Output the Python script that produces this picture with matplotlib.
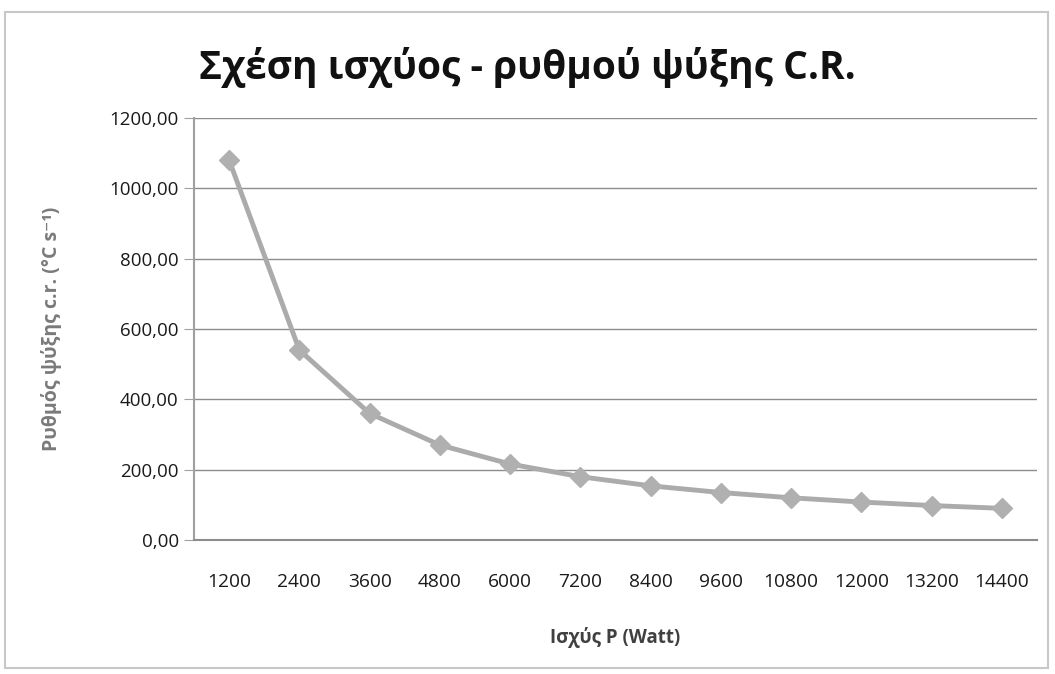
import matplotlib
matplotlib.use("Agg")
import matplotlib.pyplot as plt
from matplotlib.ticker import FuncFormatter
from matplotlib.patches import Rectangle

plt.rcParams['font.family'] = ['Open Sans', 'DejaVu Sans']

categories = ["1200", "2400", "3600", "4800", "6000", "7200", "8400",
              "9600", "10800", "12000", "13200", "14400"]
values = [1080, 540, 360, 270, 216, 180, 154, 135, 120, 108, 98, 90]
yticks = [0, 200, 400, 600, 800, 1000, 1200]

title = "Σχέση ισχύος - ρυθμού ψύξης C.R."
xlabel = "Ισχύς P (Watt)"
ylabel = "Ρυθμός ψύξης c.r. (°C s⁻¹)"

fig = plt.figure(figsize=(10.55, 6.74), dpi=100)
ax = fig.add_axes([0.1839, 0.1988, 0.983 - 0.1839, 0.8249 - 0.1988])

x = list(range(len(categories)))
ax.plot(x, values, color='#ababab', linewidth=3.5, marker='D', markersize=10,
        markerfacecolor='#b0b0b0', markeredgecolor='#b0b0b0', zorder=3)

ax.set_xlim(-0.5, len(categories) - 0.5)
ax.set_ylim(0, 1200)
ax.set_yticks(yticks)
ax.yaxis.set_major_formatter(FuncFormatter(lambda v, p: f"{v:.2f}".replace('.', ',')))
ax.set_xticks(x)
ax.set_xticklabels(categories)

ax.grid(axis='y', color='#8c8c8c', linewidth=1)
ax.set_axisbelow(True)
for s in ['top', 'right']:
    ax.spines[s].set_visible(False)
ax.spines['left'].set_color('#a0a0a0')
ax.spines['left'].set_linewidth(1.5)
ax.spines['bottom'].set_color('#8c8c8c')
ax.spines['bottom'].set_linewidth(1.5)

ax.tick_params(axis='y', length=7, color='#a0a0a0', labelsize=13.5, labelcolor='#1a1a1a', pad=4)
ax.tick_params(axis='x', length=0, labelsize=13.8, labelcolor='#1a1a1a', pad=24)

ax.set_xlabel(xlabel, fontsize=13.5, fontweight='bold', color='#404040', labelpad=26)
ax.set_ylabel(ylabel, fontsize=14, fontweight='bold', color='#7a7a7a', labelpad=34)

fig.text(0.5, 0.9, title, ha='center', va='center', fontsize=28, fontweight='bold', color='#111111')

fig.patches.append(Rectangle((5 / 1055, 6 / 674), 1043 / 1055, 656 / 674,
                             transform=fig.transFigure, fill=False,
                             edgecolor='#c8c8c8', linewidth=1.5))

fig.savefig("out.png", dpi=100)
